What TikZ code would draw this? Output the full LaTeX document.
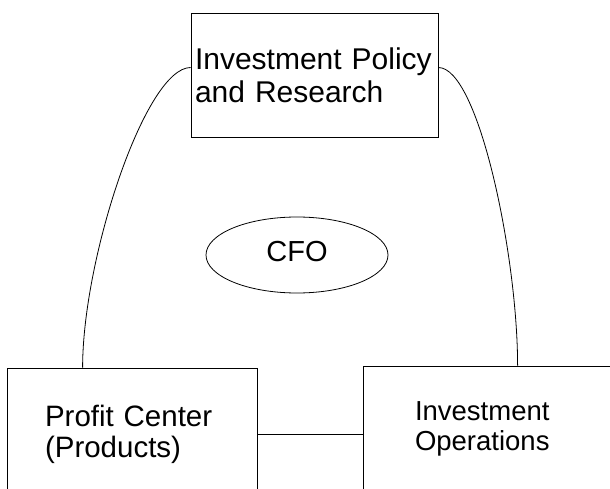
\documentclass[tikz,border=0pt]{standalone}
\usepackage{fontspec}
\setmainfont{Liberation Sans}
\usetikzlibrary{shapes.geometric,calc}
\begin{document}
\begin{tikzpicture}[x=1pt,y=-1pt,
  box/.style={draw, line width=0.8pt, rectangle, align=left, inner ysep=0pt},
  link/.style={draw, line width=0.8pt},
  toptext/.style={font=\fontsize{30}{33}\selectfont},
  pctext/.style={font=\fontsize{29.5}{31}\selectfont},
  iotext/.style={font=\fontsize{27.5}{30}\selectfont}]
\useasboundingbox (0,0) rectangle (610,489);
\node[box, toptext, minimum width=247pt, minimum height=124pt, inner xsep=4pt, text width=239pt] (ipr) at (314.5,75) {Investment Policy\\and Research};
\node[box, pctext, minimum width=250pt, minimum height=132pt, inner xsep=38pt, text width=174pt] (pc) at (132,434) {Profit Center\\(Products)};
\node[box, iotext, minimum width=257pt, minimum height=126pt, inner xsep=52pt, text width=153pt] (io) at (491.5,429) {Investment\\Operations};
\node[draw, line width=0.8pt, ellipse, minimum width=182pt, minimum height=76pt, inner sep=0pt, font=\fontsize{29}{33}\selectfont] (cfo) at (297,255) {\raisebox{8pt}{CFO}};
\draw[link] ($(ipr.north west)!0.44!(ipr.south west)$) .. controls +(-45,0) and +(0,-110) .. ($(pc.north west)+(76,0)$);
\draw[link] ($(ipr.north east)!0.44!(ipr.south east)$) .. controls +(40,0) and +(0,-110) .. ($(io.north west)+(155,0)$);
\draw[link] (pc.east) -- (pc.east -| io.west);
\end{tikzpicture}
\end{document}
